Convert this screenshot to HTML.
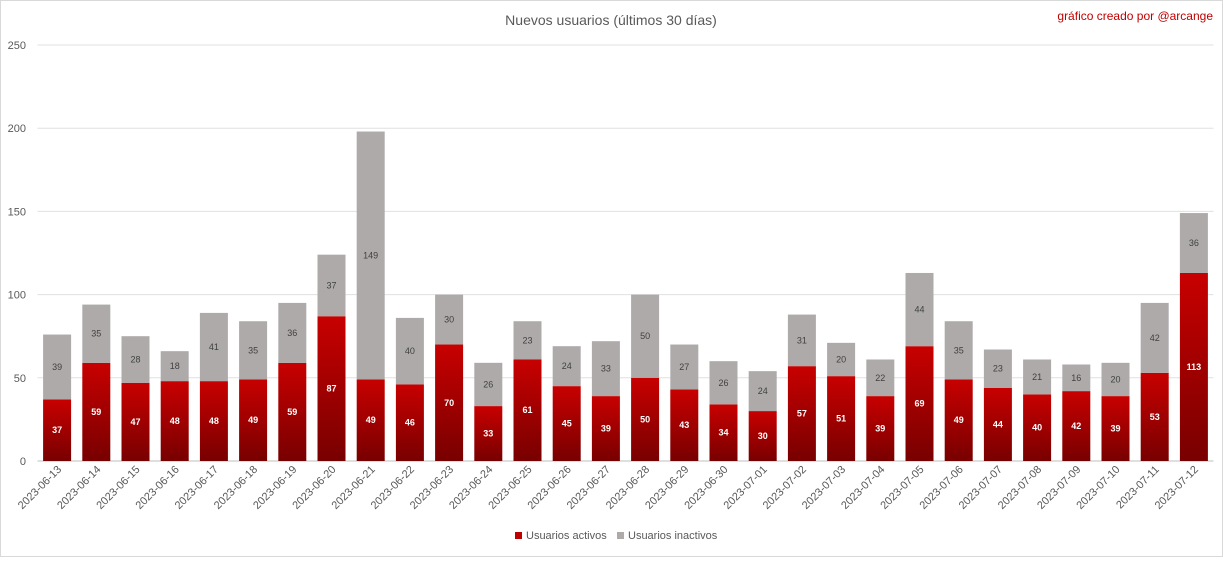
<!DOCTYPE html>
<html><head><meta charset="utf-8"><style>
body{margin:0;background:#fff;font-family:"Liberation Sans",sans-serif}
</style></head><body>
<svg id="chart" width="1223" height="557" xmlns="http://www.w3.org/2000/svg" font-family="Liberation Sans, sans-serif">
<defs><linearGradient id="rg" x1="0" y1="0" x2="0" y2="1"><stop offset="0" stop-color="#c80000"/><stop offset="1" stop-color="#780000"/></linearGradient></defs>
<rect x="0.5" y="0.5" width="1222" height="556" fill="#fff" stroke="#d9d9d9"/>
<text x="611" y="25" text-anchor="middle" font-size="14" fill="#595959">Nuevos usuarios (últimos 30 días)</text>
<text x="1213" y="20" text-anchor="end" font-size="12" fill="#c00000">gráfico creado por @arcange</text>
<g id="grid"></g><g id="bars"></g><g id="xl"></g>
<g>
<rect x="515" y="532" width="7" height="7" fill="#c00000"/>
<text x="526" y="539" font-size="11" fill="#595959">Usuarios activos</text>
<rect x="617" y="532" width="7" height="7" fill="#aeaaaa"/>
<text x="628" y="539" font-size="11" fill="#595959">Usuarios inactivos</text>
</g>
</svg>
<script>
const categories=["2023-06-13","2023-06-14","2023-06-15","2023-06-16","2023-06-17","2023-06-18","2023-06-19","2023-06-20","2023-06-21","2023-06-22","2023-06-23","2023-06-24","2023-06-25","2023-06-26","2023-06-27","2023-06-28","2023-06-29","2023-06-30","2023-07-01","2023-07-02","2023-07-03","2023-07-04","2023-07-05","2023-07-06","2023-07-07","2023-07-08","2023-07-09","2023-07-10","2023-07-11","2023-07-12"];
const active=[37,59,47,48,48,49,59,87,49,46,70,33,61,45,39,50,43,34,30,57,51,39,69,49,44,40,42,39,53,113];
const inactive=[39,35,28,18,41,35,36,37,149,40,30,26,23,24,33,50,27,26,24,31,20,22,44,35,23,21,16,20,42,36];
const yTicks=[0,50,100,150,200,250];
const NS="http://www.w3.org/2000/svg";
const L=37.5,R=1213.5,T=45,B=461,yMax=250;
const y=v=>B-(v/yMax)*(B-T);
const step=(R-L)/categories.length;
const xc=i=>L+step*(i+0.5);
const bw=28;
function mk(tag,at,parent,txt){const e=document.createElementNS(NS,tag);for(const k in at)e.setAttribute(k,at[k]);if(txt!==undefined)e.textContent=txt;parent.appendChild(e);return e;}
const grid=document.getElementById('grid'),bars=document.getElementById('bars'),xl=document.getElementById('xl');
yTicks.forEach(t=>{
 const l=mk('line',{x1:L,x2:R,y1:y(t),y2:y(t),stroke:t===0?'#bfbfbf':'#e0e0e0'},grid);
 
 
 const tx=mk('text',{x:26,y:y(t)+4,'text-anchor':'end','font-size':11,fill:'#595959'},grid,t);
 
 
});
categories.forEach((c,i)=>{
 const x=xc(i)-bw/2;
 const a=mk('rect',{x:x,y:y(active[i]),width:bw,height:B-y(active[i]),fill:'url(#rg)'},bars);
 
 
 const top=active[i]+inactive[i];
 const g=mk('rect',{x:x,y:y(top),width:bw,height:y(active[i])-y(top),fill:'#aeaaaa'},bars);
 
 
 const la=mk('text',{x:xc(i),y:(y(active[i])+B)/2+3,'text-anchor':'middle','font-size':9,'font-weight':'bold',fill:'#fff'},bars,active[i]);
 
 
 const li=mk('text',{x:xc(i),y:(y(active[i])+y(top))/2+3,'text-anchor':'middle','font-size':9,fill:'#404040'},bars,inactive[i]);
 
 
 const xt=mk('text',{x:xc(i)+5,y:470,'text-anchor':'end','font-size':11,fill:'#595959',transform:`rotate(-45 ${xc(i)+5} 470)`},xl,c);
 
 
});
</script>
</body></html>
